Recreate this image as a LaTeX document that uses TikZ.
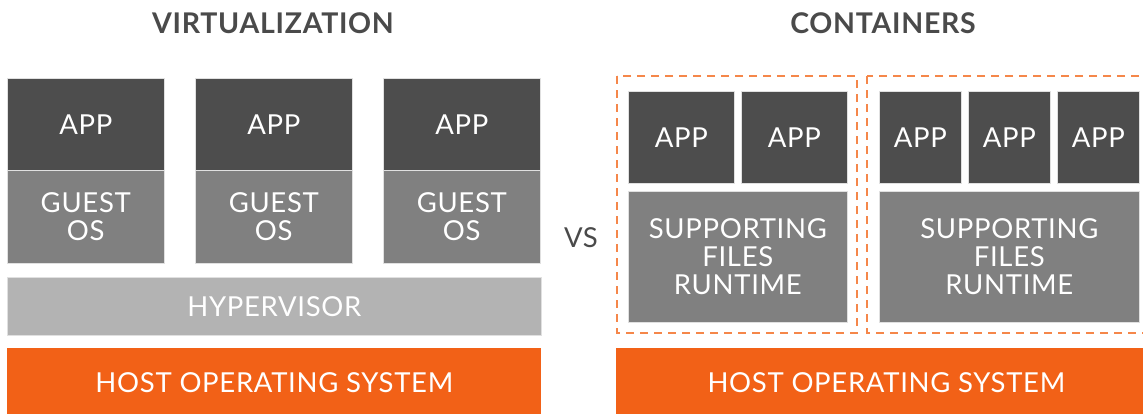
\documentclass[tikz,border=0pt]{standalone}
\usepackage{fontspec}
\setmainfont{Lato}[LetterSpace=2.5]
\definecolor{appgray}{HTML}{4D4D4D}
\definecolor{osgray}{HTML}{808080}
\definecolor{hypgray}{HTML}{B3B3B3}
\definecolor{hostorange}{HTML}{F26117}
\definecolor{dashorange}{HTML}{F5874A}
\definecolor{titlegray}{HTML}{4A4A4A}
\newcommand{\labfont}{\fontsize{27.5}{28}\selectfont}
\tikzset{
 box/.style={draw=black!12,line width=0.6pt,text=white,align=center,inner sep=0pt,anchor=north west,font=\labfont},
 appbox/.style={box,fill=appgray},
 osbox/.style={box,fill=osgray},
 hypbox/.style={box,fill=hypgray},
 hostbox/.style={box,fill=hostorange,draw=none},
 dashbox/.style={draw=dashorange,line width=1.6pt,dash pattern=on 8pt off 6pt},
 heading/.style={text=titlegray,font=\fontsize{28.5}{30}\selectfont\bfseries}
}
\begin{document}
\begin{tikzpicture}[x=1pt,y=-1pt]
 \useasboundingbox (0,0) rectangle (1143,413);
 \clip (0,0) rectangle (1143,413);
 \node[heading] (titleV) at (273,23) {VIRTUALIZATION};
 \node[heading] (titleC) at (883,23) {CONTAINERS};
 % virtual machines
 \foreach \x [count=\i] in {7,195,383} {
  \node[appbox,minimum width=157pt,minimum height=92pt] (app\i) at (\x,78) {APP};
  \node[osbox,minimum width=157pt,minimum height=93pt] (guest\i) at (\x,170) {GUEST\\OS};
 }
 \node[hypbox,minimum width=534pt,minimum height=58pt] (hyper) at (7,277) {HYPERVISOR};
 \node[hostbox,minimum width=534pt,minimum height=68pt] (hostL) at (7,348) {HOST OPERATING SYSTEM};
 \node[text=titlegray,font=\labfont] (vs) at (581,238) {VS};
 % containers
 \draw[dashbox] (617,76) rectangle (857,333);
 \draw[dashbox] (867,76) rectangle (1152,333);
 \foreach \x [count=\i] in {628,741} {
  \node[appbox,minimum width=106pt,minimum height=92pt] (capp\i) at (\x,91) {APP};
 }
 \foreach \x [count=\i] in {879,968,1057} {
  \node[appbox,minimum width=82pt,minimum height=92pt] (dapp\i) at (\x,91) {APP};
 }
 \node[osbox,minimum width=219pt,minimum height=131pt] (supp1) at (628,191) {SUPPORTING\\FILES\\RUNTIME};
 \node[osbox,minimum width=260pt,minimum height=131pt] (supp2) at (879,191) {SUPPORTING\\FILES\\RUNTIME};
 \node[hostbox,minimum width=540pt,minimum height=68pt] (hostR) at (616,348) {HOST OPERATING SYSTEM};
\end{tikzpicture}
\end{document}
